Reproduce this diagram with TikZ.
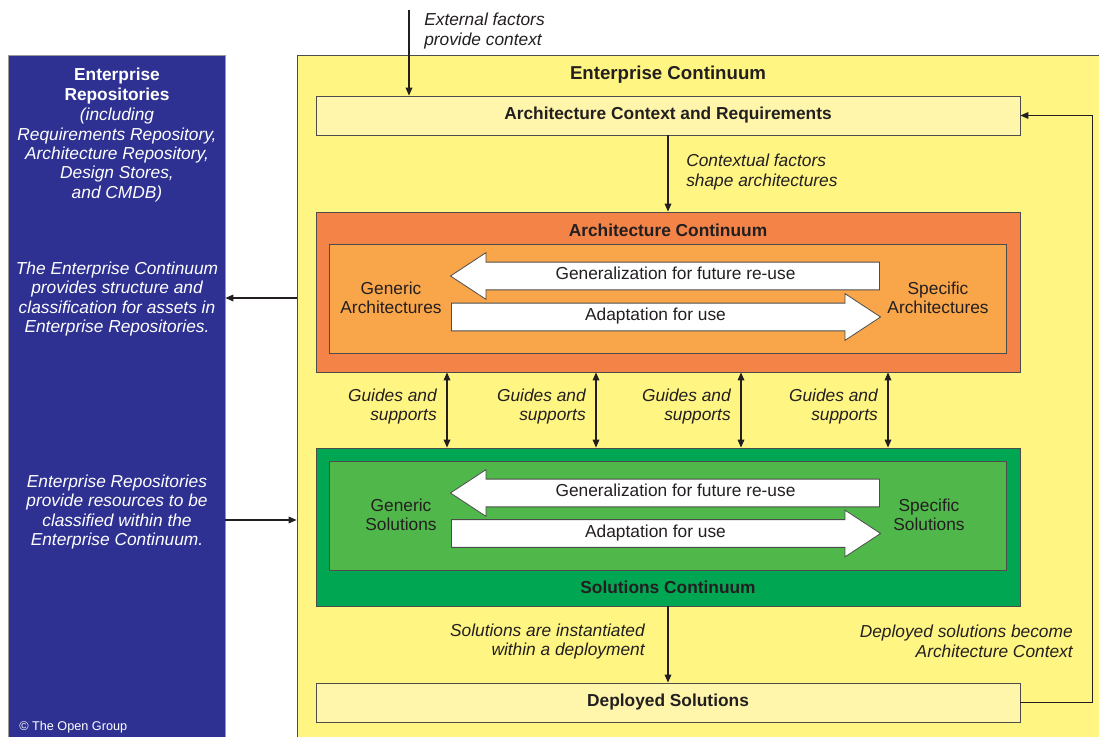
\documentclass[tikz,border=0pt]{standalone}
\usepackage{fontspec}
\setmainfont{Liberation Sans}
\usetikzlibrary{arrows.meta,positioning,shapes.arrows}
\definecolor{repoBlue}{RGB}{46,49,146}
\definecolor{ecYellow}{RGB}{255,245,130}
\definecolor{ctxYellow}{RGB}{255,246,172}
\definecolor{archOrange}{RGB}{243,131,70}
\definecolor{archLight}{RGB}{249,166,74}
\definecolor{solGreen}{RGB}{0,166,81}
\definecolor{solLight}{RGB}{80,184,74}
\definecolor{textDark}{RGB}{35,31,32}

\begin{document}
\begin{tikzpicture}[x=0.75pt, y=-0.75pt,
  panel/.style={draw=black!70, line width=0.6pt, inner sep=0pt, minimum width=528pt},
  dtxt/.style={text=textDark, align=center, inner sep=0pt, font=\fontsize{13}{14.6}\selectfont},
  btxt/.style={dtxt, font=\fontsize{13}{14.6}\selectfont\bfseries},
  itxt/.style={dtxt, font=\fontsize{13}{14.6}\selectfont\itshape},
  wtxt/.style={itxt, text=white},
  blk/.style={single arrow, draw=black!70, line width=0.6pt, fill=white, text=textDark,
    font=\fontsize{13}{14.6}\selectfont, text height=8.6pt, text depth=2.6pt,
    inner ysep=4.5pt, inner xsep=2pt, single arrow head extend=7.1pt,
    single arrow tip angle=66.6, minimum height=321.75pt},
  arr/.style={-{Triangle[length=6pt,width=5pt]}, line width=0.9pt, textDark},
  dbl/.style={{Triangle[length=6pt,width=5pt]}-{Triangle[length=6pt,width=5pt]}, line width=0.9pt, textDark}
]
  \useasboundingbox (0,0) rectangle (1099,737);
  \clip (0,0) rectangle (1099,737);

  % repositories (left column)
  \node[panel, fill=repoBlue, draw=black!40, minimum width=162.75pt, minimum height=517.5pt] (repo) at (116.5,400) {};
  \node[wtxt, font=\fontsize{13}{14.6}\selectfont\bfseries] (repoHead) at (117,86) {Enterprise\\Repositories};
  \node[wtxt] (repoSub) at (117,155) {(including\\Requirements Repository,\\Architecture Repository,\\Design Stores,\\and CMDB)};
  \node[wtxt] (repoA) at (117,299) {The Enterprise Continuum\\provides structure and\\classification for assets in\\Enterprise Repositories.};
  \node[wtxt] (repoB) at (117,512) {Enterprise Repositories\\provide resources to be\\classified within the\\Enterprise Continuum.};
  \node[text=white, inner sep=0pt, font=\fontsize{9.5}{11}\selectfont, anchor=west] (copy) at (19,727) {© The Open Group};

  % enterprise continuum (right)
  \node[panel, fill=ecYellow, minimum width=609.75pt, minimum height=517.5pt] (ent) at (703.5,400) {};
  \node[btxt, font=\fontsize{14}{16}\selectfont\bfseries] (entTitle) at (668,75) {Enterprise Continuum};
  \node[panel, fill=ctxYellow, minimum height=29.25pt, btxt] (acr) at (668,115.5) {Architecture Context and Requirements};

  % architecture continuum
  \node[panel, fill=archOrange, minimum height=120pt] (archOut) at (668,292) {};
  \node[btxt] (archTitle) at (668,230) {Architecture Continuum};
  \node[panel, fill=archLight, minimum width=507.75pt, minimum height=81.75pt] (archIn) at (667.5,298.5) {};
  \node[blk, shape border rotate=180] (archGen) at (675.5,276) {Generalization for future re-use};
  \node[blk] (archAdp) at (655.5,317) {Adaptation for use};
  \node[dtxt] (archGeneric) at (391,298) {Generic\\Architectures};
  \node[dtxt] (archSpecific) at (938,298) {Specific\\Architectures};

  % solutions continuum
  \node[panel, fill=solGreen, minimum height=118.5pt] (solOut) at (668,527) {};
  \node[btxt] (solTitle) at (668,587) {Solutions Continuum};
  \node[panel, fill=solLight, minimum width=507.75pt, minimum height=81.75pt] (solIn) at (667.5,515.5) {};
  \node[blk, shape border rotate=180] (solGen) at (675.5,493) {Generalization for future re-use};
  \node[blk] (solAdp) at (655.5,533.5) {Adaptation for use};
  \node[dtxt] (solGeneric) at (401,515) {Generic\\Solutions};
  \node[dtxt] (solSpecific) at (929,515) {Specific\\Solutions};

  \node[panel, fill=ctxYellow, minimum height=29.25pt, btxt] (dep) at (668,702.5) {Deployed Solutions};

  % flows
  \coordinate (extTop) at (409,10);
  \draw[arr] (extTop) -- (acr.north -| extTop);
  \node[itxt, align=left, anchor=west] (extLab) at (424,31) {External factors\\provide context};
  \draw[arr] (acr.south) -- (archOut.north);
  \node[itxt, align=left, anchor=west] (ctxLab) at (686,172) {Contextual factors\\shape architectures};
  \foreach \gx in {447,596,741,888} {
    \draw[dbl] (archOut.south -| \gx,0) -- (solOut.north -| \gx,0);
    \node[itxt, align=right, anchor=east] (guide\gx) at (\gx-10,406.5) {Guides and\\supports};
  }
  \draw[arr] (solOut.south) -- (dep.north);
  \node[itxt, align=right, anchor=east] (instLab) at (645,641.5) {Solutions are instantiated\\within a deployment};
  \draw[arr] (dep.east) -- ++(72,0) |- (acr.east);
  \node[itxt, align=right, anchor=east] (depLab) at (1073,641.5) {Deployed solutions become\\Architecture Context};
  \draw[arr] (ent.west |- 0,298) -- (repo.east |- 0,298);
  \draw[arr] (repo.east |- 0,520) -- (ent.west |- 0,520);
\end{tikzpicture}
\end{document}
